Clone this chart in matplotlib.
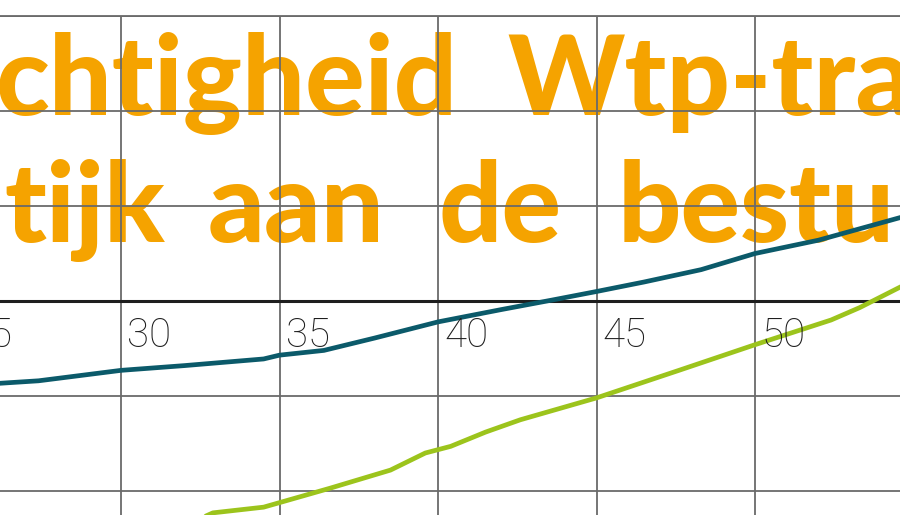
import matplotlib
matplotlib.use("Agg")
import matplotlib.pyplot as plt

# x positions (years-ish scale) and values
teal_x = [26.0, 27.4, 30.0, 32.0, 34.5, 35.0, 36.4, 38.0, 40.0, 42.0, 43.6, 45.0, 46.5, 48.3, 50.0, 52.0, 54.6]
teal_y = [-0.87, -0.84, -0.73, -0.68, -0.61, -0.57, -0.52, -0.39, -0.22, -0.09, 0.01, 0.10, 0.20, 0.33, 0.50, 0.64, 0.88]

green_x = [32.3, 32.9, 34.5, 36.6, 38.5, 39.6, 40.4, 41.5, 42.6, 45.0, 47.6, 50.0, 52.4, 53.3, 54.6]
green_y = [-2.32, -2.23, -2.17, -1.97, -1.78, -1.60, -1.53, -1.38, -1.25, -1.02, -0.73, -0.46, -0.20, -0.07, 0.15]

tick_vals = [25, 30, 35, 40, 45, 50, 55]

# title fragments: (text, x px, anchor)
line1 = [("chtigheid", 458, "right"), ("Wtp-tra", 507, "left")]
line2 = [("tijk", 165, "right"), ("aan", 208, "left"), ("de", 438, "left"), ("bestu", 618, "left")]

W, H = 900, 515
fig = plt.figure(figsize=(9, 5.15), dpi=100)
ax = fig.add_axes([0, 0, 1, 1 - 16 / H])

ax.set_xticks(tick_vals)
ax.set_yticks([-2, -1, 0, 1, 2, 3])
ax.set_xlim(26.183, 54.574)
ax.set_ylim(-2.2526, 3.0)
ax.grid(True, color="#6a6a6a", lw=1.3, zorder=2)
ax.set_axisbelow(False)
ax.tick_params(length=0, labelbottom=False, labelleft=False)
for side in ["left", "right", "bottom"]:
    ax.spines[side].set_visible(False)
ax.spines["top"].set_color("#6a6a6a")
ax.spines["top"].set_linewidth(1.3)

ax.axhline(0, color="#1e1e1e", lw=2.2, zorder=3)

ax.plot(teal_x, teal_y, color="#0b5a6a", lw=3.4, zorder=4, solid_capstyle="round")
ax.plot(green_x, green_y, color="#9cc41c", lw=3.4, zorder=4, solid_capstyle="round")

for v in tick_vals:
    ax.text(v + 0.19, -0.484, str(v), fontsize=29, family="Roboto", weight="light",
            color="#1e1e1e", va="baseline", ha="left", zorder=5, clip_on=True)

orange = "#f5a300"
for txt, px, ha in line1:
    fig.text(px / W, 1 - 115 / H, txt, fontsize=80, family="Lato", weight="black",
             color=orange, ha=ha, va="baseline", zorder=1)
for txt, px, ha in line2:
    fig.text(px / W, 1 - 242 / H, txt, fontsize=80, family="Lato", weight="black",
             color=orange, ha=ha, va="baseline", zorder=1)

ax.set_zorder(2)
ax.patch.set_alpha(0)

fig.savefig("out.png", dpi=100)
